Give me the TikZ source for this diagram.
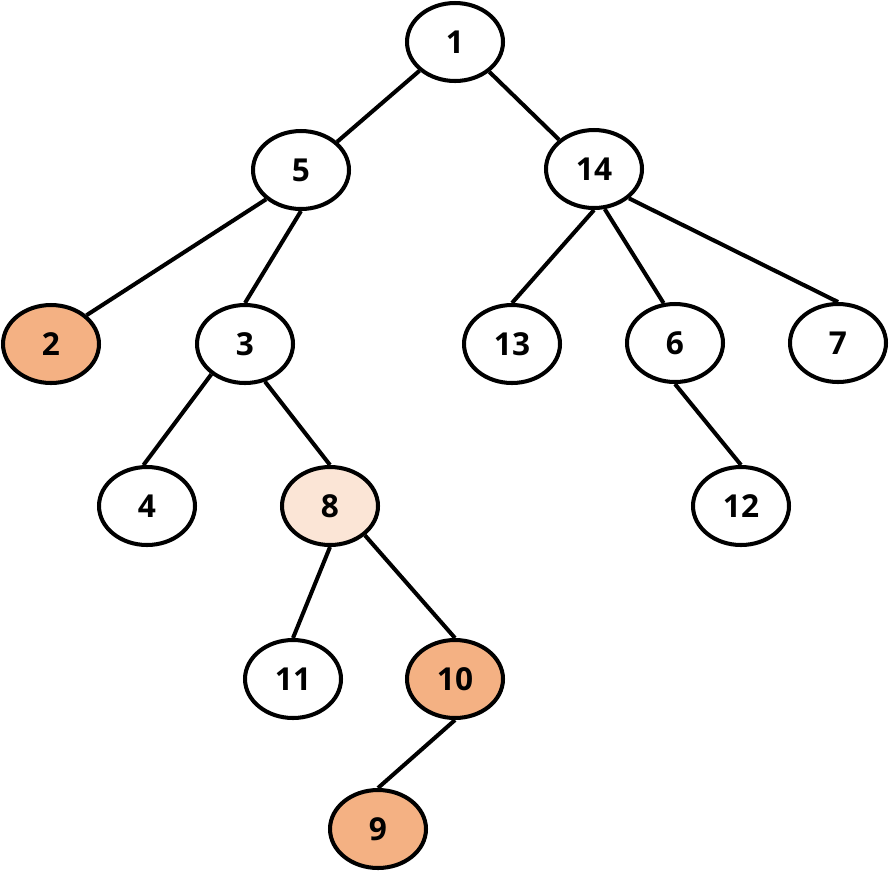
\documentclass[tikz,border=0pt]{standalone}
\usepackage{fontspec}
\setmainfont{Open Sans}
\usepackage{tikz}
\usetikzlibrary{shapes.geometric}
\definecolor{peach}{HTML}{F4B183}
\definecolor{peachlight}{HTML}{FBE5D6}

\begin{document}
\begin{tikzpicture}[x=0.02cm,y=-0.02cm,
  vtx/.style={ellipse,draw,line width=2.3pt,fill=white,inner sep=0pt,
    minimum width=1.92cm,minimum height=1.56cm,font=\fontsize{18}{20}\selectfont\bfseries},
  hot/.style={vtx,fill=peach},
  warm/.style={vtx,fill=peachlight},
  edge/.style={line width=2.3pt}]
  \useasboundingbox (0,0) rectangle (889,873);
  % vertices
  \node[vtx] (n1) at (455,42) {1};
  \node[vtx] (n5) at (301,170) {5};
  \node[vtx] (n14) at (594,169) {14};
  \node[hot] (n2) at (51,344) {2};
  \node[vtx] (n3) at (245,344) {3};
  \node[vtx] (n13) at (512,344) {13};
  \node[vtx] (n6) at (675,343) {6};
  \node[vtx] (n7) at (838,343) {7};
  \node[vtx] (n4) at (147,506) {4};
  \node[warm] (n8) at (330,506) {8};
  \node[vtx] (n12) at (741,506) {12};
  \node[vtx] (n11) at (293,679) {11};
  \node[hot] (n10) at (455,679) {10};
  \node[hot] (n9) at (378,829) {9};
  % tree edges
  \draw[edge] (n1.219) -- (n5.38);
  \draw[edge] (n1.319) -- (n14.140);
  \draw[edge] (n5.220) -- (n2.39);
  \draw[edge] (n5.south) -- (n3.north);
  \draw[edge] (n14.south) -- (n13.north);
  \draw[edge] (n14.285) -- (n6.106);
  \draw[edge] (n14.320) -- (n7.north);
  \draw[edge] (n3.222) -- (n4.95);
  \draw[edge] (n3.298) -- (n8.north);
  \draw[edge] (n6.south) -- (n12.north);
  \draw[edge] (n8.south) -- (n11.north);
  \draw[edge] (n8.320) -- (n10.north);
  \draw[edge] (n10.south) -- (n9.north);
\end{tikzpicture}
\end{document}
